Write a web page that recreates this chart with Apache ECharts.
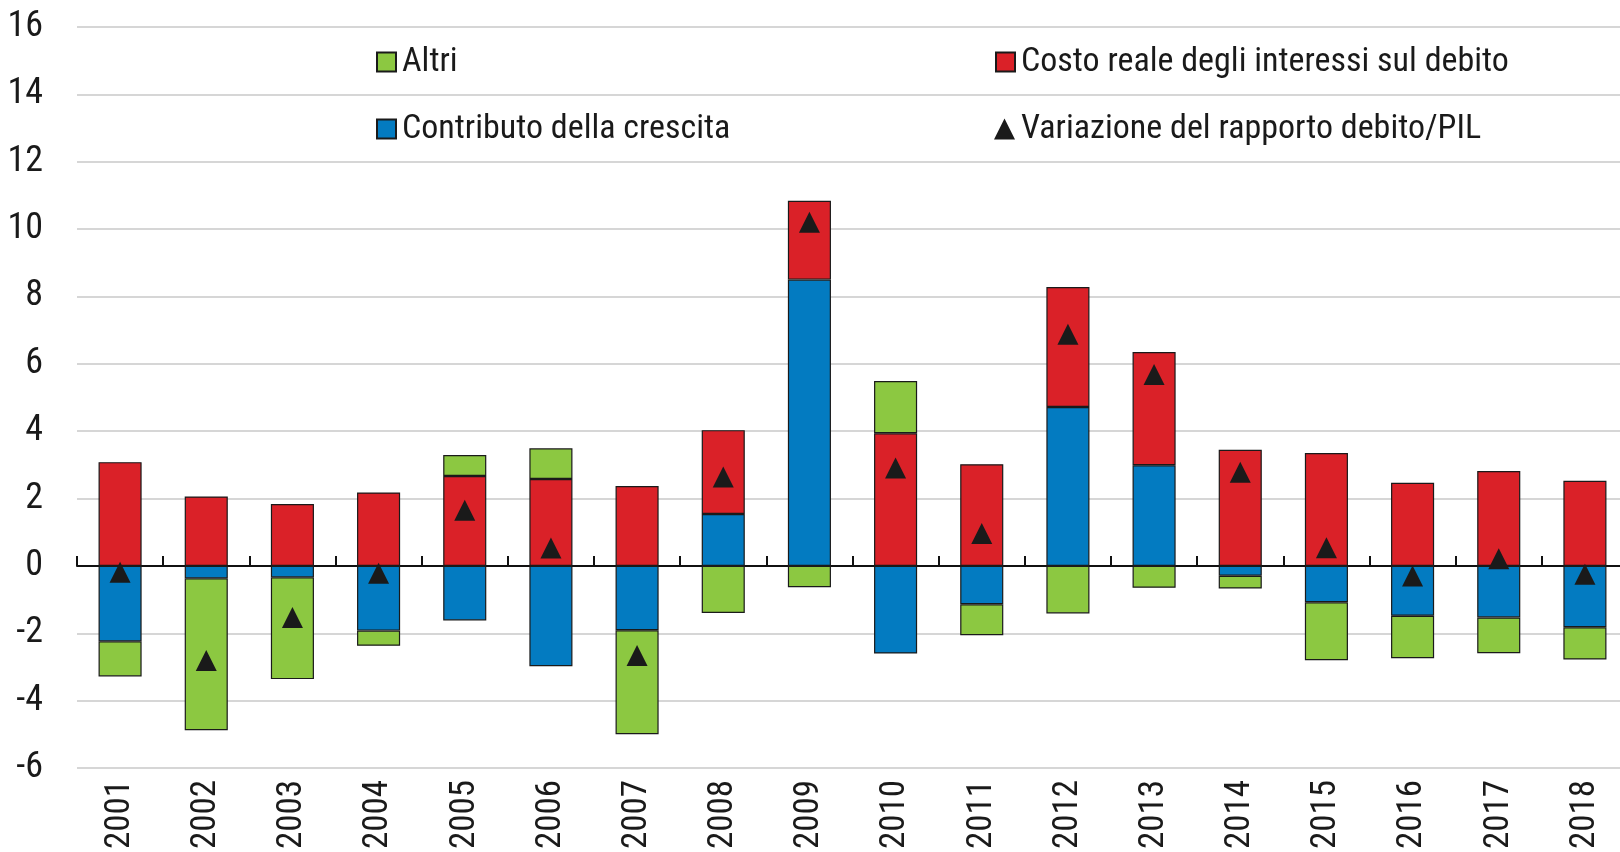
<!DOCTYPE html>
<html>
<head>
<meta charset="utf-8">
<script src="https://cdn.jsdelivr.net/npm/echarts@6/dist/echarts.min.js"></script>
<style>
html,body{margin:0;padding:0;background:#fff;}
#chart{width:1620px;height:852px;}
</style>
</head>
<body>
<div id="chart"></div>
<script>
/****
 * dati del grafico
 */
var anni=['2001','2002','2003','2004','2005','2006','2007','2008','2009','2010','2011','2012','2013','2014','2015','2016','2017','2018'];
var crescita=[-2.24,-0.37,-0.34,-1.92,-1.62,-2.98,-1.91,1.54,8.50,-2.60,-1.14,4.72,2.99,-0.29,-1.08,-1.48,-1.53,-1.82];
var interessi=[3.08,2.06,1.84,2.18,2.67,2.58,2.37,2.49,2.34,3.94,3.02,3.56,3.36,3.45,3.35,2.47,2.82,2.53];
var altri=[-1.04,-4.51,-3.02,-0.45,0.62,0.91,-3.09,-1.40,-0.63,1.55,-0.92,-1.41,-0.65,-0.38,-1.72,-1.26,-1.06,-0.96];
var variazione=[-0.19,-2.81,-1.53,-0.22,1.65,0.53,-2.66,2.64,10.2,2.91,0.96,6.88,5.68,2.78,0.54,-0.30,0.21,-0.25];

var nomi=['Altri','Costo reale degli interessi sul debito','Contributo della crescita','Variazione del rapporto debito/PIL'];
var font="'Roboto Condensed','Liberation Sans',sans-serif";

//legenda: una per voce
function legenda(nome,left,top,icon,size){
	return {
		data:[{name:nome,icon:icon}],
		left:left,
		top:top,
		itemWidth:size,
		itemHeight:size,
		selectedMode:false,
		textStyle:{fontFamily:font,fontSize:34,color:'#1a1a1a',lineHeight:40,padding:[0,0,0,1]}
	};
}

function barra(nome,dati,colore){
	return {
		name:nome,
		type:'bar',
		stack:'tot',
		xAxisIndex:0,
		barWidth:'50%',
		data:dati,
		itemStyle:{color:colore,borderColor:'#1a1a1a',borderWidth:1.2},
		emphasis:{disabled:true}
	};
}

var chart=echarts.init(document.getElementById('chart'));
var option={
	animation:false,
	backgroundColor:'#fff',
	legend:[
		legenda(nomi[0],371,37,'rect',19),
		legenda(nomi[1],990,37,'rect',19),
		legenda(nomi[2],371,104,'rect',19),
		legenda(nomi[3],989,104,'triangle',21)
	],
	grid:{left:77,right:-8,top:27,bottom:84,outerBoundsMode:'none'},
	xAxis:[
		{
			type:'category',
			data:anni,
			position:'bottom',
			axisLine:{show:false,onZero:false},
			axisTick:{show:false},
			axisLabel:{rotate:90,margin:12,fontFamily:font,fontSize:35,color:'#1a1a1a'}
		},
		{
			type:'category',
			data:anni,
			position:'bottom',
			axisLine:{show:true,onZero:true,onZeroAxisIndex:0,lineStyle:{color:'#111',width:2}},
			axisTick:{show:true,inside:true,length:10,lineStyle:{color:'#111',width:2}},
			axisLabel:{show:false}
		}
	],
	yAxis:{
		type:'value',
		min:-6,
		max:16,
		interval:2,
		axisLine:{show:false},
		axisTick:{show:false},
		splitLine:{lineStyle:{color:'#c8c8c8',width:1.5}},
		axisLabel:{margin:34,fontFamily:font,fontSize:36,color:'#1a1a1a'}
	},
	series:[
		barra(nomi[2],crescita,'#037bc1'),
		barra(nomi[1],interessi,'#da2128'),
		barra(nomi[0],altri,'#8cc841'),
		{
			name:nomi[3],
			type:'scatter',
			xAxisIndex:0,
			symbol:'triangle',
			symbolSize:21,
			z:5,
			data:variazione,
			itemStyle:{color:'#1a1a1a',opacity:1},
			emphasis:{disabled:true}
		}
	]
};
chart.setOption(option);
</script>
</body>
</html>
